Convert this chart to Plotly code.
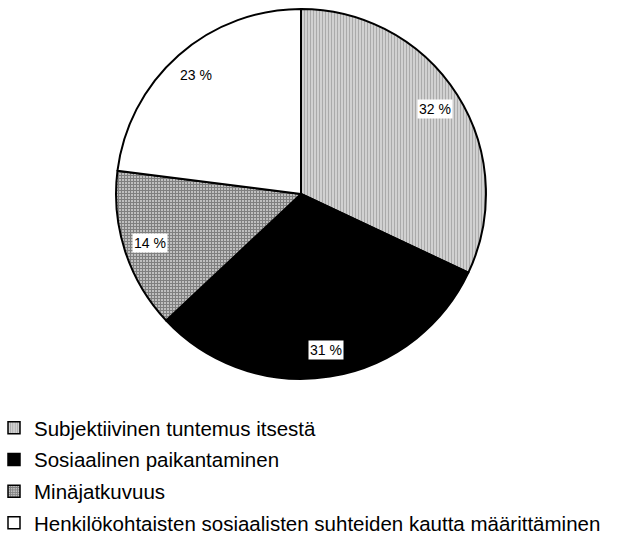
import math
import plotly.graph_objects as go

categories = ["Subjektiivinen tuntemus itsestä", "Sosiaalinen paikantaminen",
              "Minäjatkuvuus", "Henkilökohtaisten sosiaalisten suhteiden kautta määrittäminen"]
values = [32, 31, 14, 23]

patterns = ["|", "", "+", ""]
colors = ["white", "black", "white", "white"]
fgcolors = ["#555555", "black", "black", "white"]
solidity = [0.7, 0.5, 0.8, 0.5]

LABEL_R = 0.855  # label distance as a fraction of the radius

dom_x = [(301 - 186) / 627, (301 + 186) / 627]
dom_y = [(543 - 381) / 543, (543 - 9) / 543]

fig = go.Figure()
fig.add_trace(go.Pie(
    labels=categories, values=values, sort=False, direction="clockwise", rotation=0,
    textinfo="none", hoverinfo="label+percent", showlegend=False,
    marker=dict(colors=colors, line=dict(color="black", width=2),
                pattern=dict(shape=patterns, fgcolor=fgcolors, bgcolor=colors,
                             size=3, solidity=solidity, fillmode="overlay")),
    domain=dict(x=dom_x, y=dom_y),
))

# legend entries (no visible marks), one group each for spacing
for i, name in enumerate(categories):
    fig.add_trace(go.Bar(
        x=[None], y=[None], name=name, legendgroup=f"g{i}", showlegend=True,
        marker=dict(color=colors[i], line=dict(color="black", width=1.5),
                    pattern=dict(shape=patterns[i], fgcolor=fgcolors[i], bgcolor=colors[i],
                                 size=3, solidity=solidity[i], fillmode="overlay")),
    ))

cx = (dom_x[0] + dom_x[1]) / 2
cy = (dom_y[0] + dom_y[1]) / 2
R = 186
total = sum(values)
cum = 0
for v in values:
    mid = (cum + v / 2) / total * 2 * math.pi
    cum += v
    dx = LABEL_R * R * math.sin(mid) / 627
    dy = LABEL_R * R * math.cos(mid) / 543
    fig.add_annotation(x=cx + dx, y=cy + dy, xref="paper", yref="paper",
                       xanchor="center", yanchor="middle",
                       text=f"{v} %", showarrow=False, bgcolor="white",
                       font=dict(family="Liberation Sans, Arial", size=14, color="black"),
                       borderpad=1)

fig.update_layout(
    width=627, height=543, margin=dict(l=0, r=0, t=0, b=0),
    paper_bgcolor="white", plot_bgcolor="white",
    font=dict(family="Liberation Sans, Arial", color="black"),
    xaxis=dict(visible=False), yaxis=dict(visible=False),
    showlegend=True,
    legend=dict(x=0, y=0.244, xanchor="left", yanchor="top",
                font=dict(size=20.5, family="Liberation Sans, Arial", color="black"),
                itemwidth=30, tracegroupgap=2, traceorder="grouped", indentation=-6,
                bgcolor="rgba(0,0,0,0)"),
)
fig.write_html("out.html", config={"displayModeBar": False},
               post_script="document.body.style.margin='0';")
